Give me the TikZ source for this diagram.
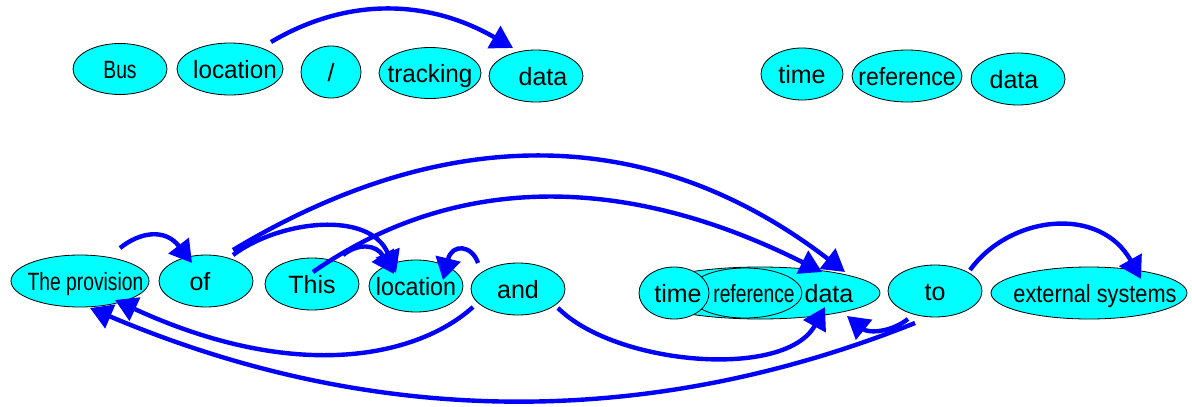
\documentclass[tikz,border=0pt]{standalone}
\usepackage{fontspec}
\setmainfont{Liberation Sans}
\usepackage{graphicx}
\usetikzlibrary{shapes.geometric,arrows.meta,calc}
\definecolor{aqua}{RGB}{0,255,255}
\definecolor{arcblue}{RGB}{0,0,255}
\newcommand\wt[2][0pt]{\makebox[0pt]{\hspace*{#1}\raisebox{-0.36em}[0pt][0pt]{#2}}}
\tikzset{
  word/.style 2 args={ellipse, draw=black, line width=0.8pt, fill=aqua, inner sep=0pt,
    minimum width=#1, minimum height=#2, font=\fontsize{25}{29}\selectfont},
  edge/.style={draw=arcblue, line width=4.4pt, -{Triangle[length=22pt,width=25pt]}, arcblue}
}
\begin{document}
\begin{tikzpicture}[x=1pt,y=-1pt]
\useasboundingbox (0,0) rectangle (1192,407);
\fill[white] (0,0) rectangle (1192,407);
% top row
\node[word={94pt}{51pt}] (bus) at (120,69) {\wt{\scalebox{0.77}[1]{Bus}}};
\node[word={106pt}{52pt}] (loc1) at (230,69) {\wt[10pt]{\scalebox{0.97}[1]{location}}};
\node[word={60pt}{52pt}] (slash) at (331,72) {\wt{/}};
\node[word={102pt}{51pt}] (track) at (430,73) {\wt{\scalebox{0.97}[1]{tracking}}};
\node[word={94pt}{52pt}] (data1) at (536,76) {\wt[14pt]{data}};
\node[word={82pt}{52pt}] (time1) at (802,74) {\wt{time}};
\node[word={110pt}{52pt}] (ref1) at (907,76) {\wt{\scalebox{0.92}[1]{reference}}};
\node[word={94pt}{52pt}] (data2) at (1018,79) {\wt[-8pt]{data}};
% bottom row
\node[word={138pt}{52pt}] (prov) at (80,281) {\wt[11pt]{\scalebox{0.77}[1]{The provision}}};
\node[word={94pt}{52pt}] (of) at (206,281) {\wt[-12pt]{of}};
\node[word={94pt}{52pt}] (this) at (312,284) {\wt{This}};
\node[word={94pt}{52pt}] (loc2) at (416,286) {\wt{\scalebox{0.93}[1]{location}}};
\node[word={94pt}{52pt}] (and) at (518,289) {\wt{and}};
\node[word={240pt}{52pt}] (data3) at (760,293) {\wt[138pt]{data}};
\node[word={114pt}{50pt}] (ref2) at (745,293) {\wt[18pt]{\scalebox{0.77}[1]{reference}}};
\node[word={70pt}{52pt}] (time2) at (674,293) {\wt[8pt]{time}};
\node[word={94pt}{52pt}] (to) at (935,291) {\wt{to}};
\node[word={196pt}{52pt}] (ext) at (1089,293) {\wt[12pt]{\scalebox{0.87}[1]{external systems}}};
% edges
\draw[edge] ($(loc1)+(41,-27)$) .. controls +(76,-45) and +(-85,-49) .. ($(data1)+(-23,-28)$);
\draw[edge] ($(prov)+(40,-33)$) .. controls +(20,-16) and +(-27,-35) .. ($(of)+(-14,-18)$);
\draw[edge] ($(of)+(27,-31)$) .. controls +(218,-131) and +(-190,-146) .. ($(data3)+(85,-21)$);
\draw[edge] ($(of)+(27,-26)$) .. controls +(47,-35) and +(-26,-63) .. ($(loc2)+(-20,-13)$);
\draw[edge] ($(this)+(1,-12)$) .. controls +(142,-99) and +(-197,-99) .. ($(data3)+(62,-21)$);
\draw[edge] ($(this)+(31,-29)$) .. controls +(15,-12) and +(-18,-30) .. ($(loc2)+(-22,-12)$);
\draw[edge] ($(and)+(-40,-26)$) .. controls +(-6,-18) and +(9,-37) .. ($(loc2)+(27,-6)$);
\draw[edge] ($(and)+(40,19)$) .. controls +(57,57) and +(-40,73) .. ($(data3)+(65,14)$);
\draw[edge] ($(to)+(-27,28)$) .. controls +(-18,14) and +(21,17) .. ($(data3)+(87,23)$);
\draw[edge] ($(to)+(-20,32)$) .. controls +(-250,100) and +(300,127) .. ($(prov)+(10,27)$);
\draw[edge] ($(and)+(-45,18)$) .. controls +(-53,48) and +(185,85) .. ($(prov)+(35,19)$);
\draw[edge] ($(to)+(35,-21)$) .. controls +(40,-55) and +(-41,-74) .. ($(ext)+(52,-14)$);
\end{tikzpicture}
\end{document}
